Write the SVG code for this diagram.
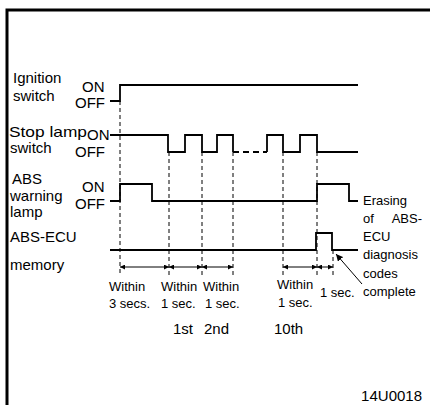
<svg xmlns="http://www.w3.org/2000/svg" width="430" height="405" viewBox="0 0 430 405">
<defs>
<marker id="ah" viewBox="0 0 6 6" refX="6" refY="3" markerWidth="5" markerHeight="5" markerUnits="userSpaceOnUse" orient="auto-start-reverse"><path d="M0,0 L6,3 L0,6 z" fill="#000"/></marker>
<marker id="ah2" viewBox="0 0 8 8" refX="8" refY="4" markerWidth="7" markerHeight="7" markerUnits="userSpaceOnUse" orient="auto"><path d="M0,0 L8,4 L0,8 z" fill="#000"/></marker>
</defs>
<style>
text{font-family:"Liberation Sans",Arial,sans-serif;fill:#000}
.lb{font-size:15px}
.sm{font-size:13px}
.sig{fill:none;stroke:#000;stroke-width:1.8}
.dsh{fill:none;stroke:#000;stroke-width:1;stroke-dasharray:4,3}
.dim{fill:none;stroke:#000;stroke-width:1}
</style>
<rect width="430" height="405" fill="#fff"/>
<path d="M7,405 V10 H430" fill="none" stroke="#000" stroke-width="3"/>

<g id="ignition">
<text class="lb" x="13" y="83">Ignition</text>
<text class="lb" x="13" y="101">switch</text>
<text class="lb" x="82" y="92">ON</text>
<text class="lb" x="75" y="108">OFF</text>
<path class="sig" d="M110,101 H120 V85 H358"/>
</g>

<g id="stoplamp">
<text class="lb" x="9" y="137" textLength="78" lengthAdjust="spacingAndGlyphs">Stop lamp</text>
<text class="lb" x="87" y="140">ON</text>
<text class="lb" x="10" y="153">switch</text>
<text class="lb" x="75" y="157">OFF</text>
<path class="sig" d="M110,135 H168 V152 H185 V135 H202 V152 H217 V135 H233 V152"/>
<path class="sig" d="M233,152 H267" stroke-dasharray="6,4"/>
<path class="sig" d="M267,152 V135 H283 V152 H300 V135 H317 V152 H358"/>
</g>

<g id="abslamp">
<text class="lb" x="12" y="184">ABS</text>
<text class="lb" x="10" y="201">warning</text>
<text class="lb" x="10" y="217">lamp</text>
<text class="lb" x="82" y="192">ON</text>
<text class="lb" x="75" y="209">OFF</text>
<path class="sig" d="M110,201 H120 V184 H152 V201 H317 V184 H349 V201 H358"/>
</g>

<g id="ecu">
<text class="lb" x="10" y="242">ABS-ECU</text>
<text class="lb" x="10" y="270">memory</text>
<path class="sig" d="M110,250 H316 V233 H332 V250 H358"/>
</g>

<g id="erasing">
<text class="sm" x="363" y="205">Erasing</text>
<text class="sm" x="363" y="223">of</text>
<text class="sm" x="422" y="223" text-anchor="end">ABS-</text>
<text class="sm" x="363" y="241">ECU</text>
<text class="sm" x="363" y="259">diagnosis</text>
<text class="sm" x="363" y="278">codes</text>
<text class="sm" x="363" y="296">complete</text>
</g>

<g id="connectors">
<path class="dsh" d="M120,101 V276 M169,152 V276 M202,152 V276 M233,152 V276 M283,152 V276 M317,152 V276 M333,250 V276"/>
<path class="dim" d="M120,267 H169" marker-start="url(#ah)" marker-end="url(#ah)"/>
<path class="dim" d="M169,267 H202" marker-start="url(#ah)" marker-end="url(#ah)"/>
<path class="dim" d="M202,267 H233" marker-start="url(#ah)" marker-end="url(#ah)"/>
<path class="dim" d="M283,267 H317" marker-start="url(#ah)" marker-end="url(#ah)"/>
<path class="dim" d="M317,267 H333" marker-start="url(#ah)" marker-end="url(#ah)"/>
<path class="dim" d="M362,284 L336,254" marker-end="url(#ah2)"/>
</g>

<g id="timing-labels">
<text class="sm" x="109" y="291">Within</text>
<text class="sm" x="109" y="308">3 secs.</text>
<text class="sm" x="161" y="291">Within</text>
<text class="sm" x="161" y="308">1 sec.</text>
<text class="sm" x="203" y="291">Within</text>
<text class="sm" x="205" y="308">1 sec.</text>
<text class="sm" x="277" y="289">Within</text>
<text class="sm" x="278" y="307">1 sec.</text>
<text class="sm" x="320" y="297">1 sec.</text>
<text class="lb" x="173" y="334">1st</text>
<text class="lb" x="204" y="334">2nd</text>
<text class="lb" x="274" y="334">10th</text>
<text class="lb" x="422" y="401" text-anchor="end">14U0018</text>
</g>
</svg>
